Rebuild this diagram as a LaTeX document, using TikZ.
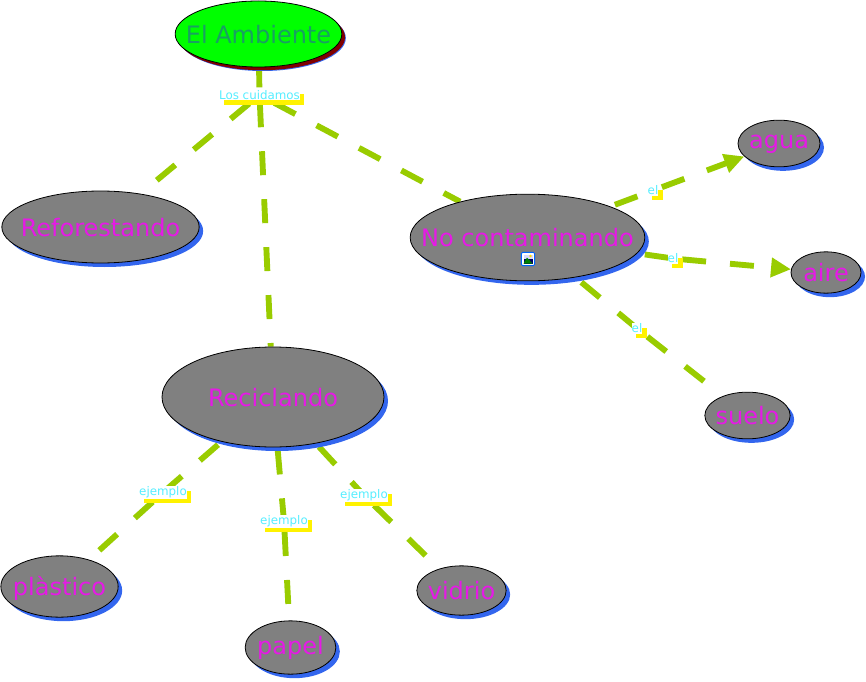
\documentclass[tikz,border=0pt]{standalone}
\usepackage{fontspec}
\setmainfont{DejaVu Sans}
\usepackage{xcolor}
\usetikzlibrary{shapes.geometric, arrows.meta, positioning, backgrounds, shadows}
\definecolor{ramal}{HTML}{99CC00}
\definecolor{sombra}{HTML}{3366EE}
\definecolor{rosa}{HTML}{E619E6}
\definecolor{celeste}{HTML}{55EEFF}
\definecolor{verdoso}{HTML}{18A062}
\newcommand{\texto}[2][0.38em]{\raisebox{-#1}[0pt][0pt]{\makebox[0pt]{#2}}}

\begin{document}
\begin{tikzpicture}[
    x=0.75pt, y=-0.75pt,
    concepto/.style={ellipse, draw=black, line width=0.6pt, fill=gray, inner sep=0pt,
                text=rosa, font=\fontsize{18}{20}\selectfont,
                general shadow={shadow xshift=3pt, shadow yshift=-3pt, fill=sombra}},
    raiz/.style={concepto, fill=green, text=verdoso,
                general shadow={shadow xshift=2.4pt, shadow yshift=-2.4pt, fill=red!50!black}},
    etiqueta/.style={fill=white, text=celeste, inner xsep=0pt, inner ysep=0.5pt,
                font=\fontsize{8.9}{10}\selectfont,
                general shadow={shadow xshift=3.4pt, shadow yshift=-3.4pt, fill=yellow}},
    ramo/.style={draw=ramal, line width=4.4pt, dash pattern=on 18pt off 18pt},
    flecha/.style={ramo, -{Triangle[length=15pt, width=14pt]}},
]
\useasboundingbox (0,0) rectangle (866,681);

% Concepts
\node[raiz, minimum width=125pt, minimum height=49.5pt] (ambiente) at (258.5,34) {\texto{El Ambiente}};
\node[concepto, minimum width=148pt, minimum height=54pt] (reforestando) at (100.5,227) {\texto{Reforestando}};
\node[concepto, minimum width=176pt, minimum height=65pt] (contaminando) at (527.5,237.5) {\texto{No contaminando}};
\node[concepto, minimum width=166.5pt, minimum height=75pt] (reciclando) at (273,397) {\texto{Reciclando}};
\node[concepto, minimum width=61.5pt, minimum height=35pt] (agua) at (779,143.5) {\texto[0.2em]{agua}};
\node[concepto, minimum width=52.5pt, minimum height=31pt] (aire) at (826,272.5) {\texto{aire}};
\node[concepto, minimum width=64pt, minimum height=35pt] (suelo) at (747.5,415.5) {\texto{suelo}};
\node[concepto, minimum width=88pt, minimum height=46pt] (plastico) at (59.5,586.5) {\texto{plàstico}};
\node[concepto, minimum width=68pt, minimum height=40pt] (papel) at (290.5,647.5) {\texto[0.28em]{papel}};
\node[concepto, minimum width=67pt, minimum height=37pt] (vidrio) at (461.5,590.5) {\texto{vidrio}};

% Linking phrases
\node[etiqueta] (cuidamos) at (259.5,95) {Los cuidamos};
\node[etiqueta] (el1) at (653,190.5) {el};
\node[etiqueta] (el2) at (673,258.5) {el};
\node[etiqueta] (el3) at (637,328.5) {el};
\node[etiqueta] (ej1) at (163,492.5) {ejemplo};
\node[etiqueta] (ej2) at (284,521.5) {ejemplo};
\node[etiqueta] (ej3) at (364,495.5) {ejemplo};

% Picture icon
\node[draw=blue!60!cyan, fill=white, rounded corners=1pt, line width=0.7pt, minimum size=10pt, inner sep=0pt] (icono) at (528,259) {};
\fill[blue!40!black] (523.5,254.5) rectangle (532.5,263.5);
\fill[white!85!blue] (523.5,254.5) rectangle (532.5,259);
\fill[green!50!black] (523.5,263.5) -- (527,257.5) -- (532.5,263.5) -- cycle;
\fill[yellow!80!orange] (530.5,256) circle (1.3);

\begin{scope}[on background layer]
\draw[ramo, dash phase=14pt] (ambiente.center) -- (cuidamos.center);
\draw[ramo, dash phase=25.9pt] (cuidamos.center) -- (reforestando);
\draw[ramo, dash phase=29.8pt] (cuidamos.center) -- (reciclando);
\draw[ramo, dash phase=23.5pt] (cuidamos.center) -- (contaminando);
\draw[ramo, dash phase=2pt] (contaminando.center) -- (el1.center);
\draw[flecha, dash phase=28.9pt] (el1.center) -- (agua);
\draw[ramo, dash phase=19.1pt] (contaminando.center) -- (el2.center);
\draw[flecha, dash phase=29.1pt] (el2.center) -- (aire);
\draw[ramo, dash phase=19.5pt] (contaminando.center) -- (el3.center);
\draw[ramo, dash phase=26.1pt, shorten >=6pt] (el3.center) -- (suelo);
\draw[ramo, dash phase=17.4pt] (reciclando.center) -- (ej1.center);
\draw[ramo, dash phase=25.5pt] (ej1.center) -- (plastico);
\draw[ramo, dash phase=31.7pt] (reciclando.center) -- (ej2.center);
\draw[ramo, dash phase=28.1pt] (ej2.center) -- (papel);
\draw[ramo, dash phase=21.2pt] (reciclando.center) -- (ej3.center);
\draw[ramo, dash phase=25.5pt] (ej3.center) -- (vidrio);
\end{scope}
\end{tikzpicture}
\end{document}
